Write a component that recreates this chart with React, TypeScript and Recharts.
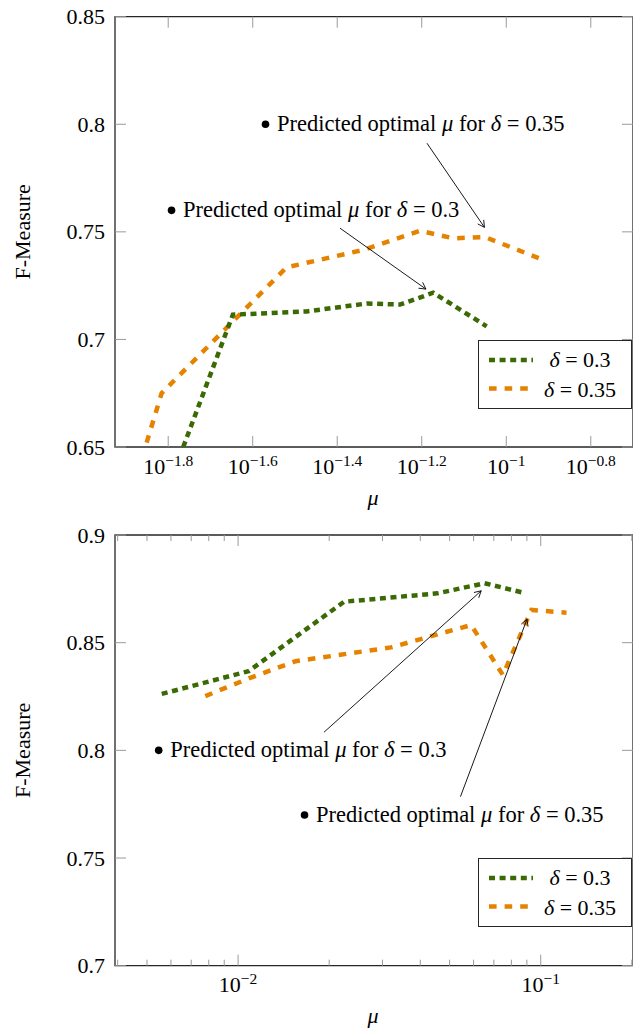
import React from 'react';
import { LineChart, Line, XAxis, YAxis, ReferenceArea, ReferenceDot, ReferenceLine } from 'recharts';

const FONT = '"Liberation Serif", "Times New Roman", Times, serif';
const GREEN = '#3b6a05';
const ORANGE = '#e58300';
const TICK = '#9a9a9a';
const BORDER = '#262626';

// ---- series (top chart) ----
const topMu030 = [0.0172, 0.02254, 0.0337, 0.04673, 0.05603, 0.06718, 0.08987];
const topF030 = [0.65, 0.7115, 0.713, 0.7167, 0.7162, 0.7217, 0.7061];
const topMu035 = [0.01409, 0.01529, 0.03021, 0.04587, 0.06248, 0.07492, 0.08904, 0.1213];
const topF035 = [0.652, 0.675, 0.7335, 0.7416, 0.7505, 0.747, 0.7476, 0.7372];

// ---- series (bottom chart) ----
const botMu030 = [0.005595, 0.01084, 0.02239, 0.04555, 0.06521, 0.0865];
const botF030 = [0.8262, 0.8368, 0.869, 0.8729, 0.8776, 0.8734];
const botMu035 = [0.007791, 0.01084, 0.01549, 0.03199, 0.05891, 0.07499, 0.09316, 0.1217];
const botF035 = [0.8252, 0.8334, 0.8414, 0.8478, 0.8582, 0.835, 0.8652, 0.8639];

// ---- axes ----
const topXDomain = [0.01186, 0.1995];
const topXTickExps = [-1.8, -1.6, -1.4, -1.2, -1, -0.8];
const topXTickLabels = ['\u22121.8', '\u22121.6', '\u22121.4', '\u22121.2', '\u22121', '\u22120.8'];
const topYDomain = [0.65, 0.85];
const topYTicks = [0.65, 0.7, 0.75, 0.8, 0.85];
const topYTickLabels = ['0.65', '0.7', '0.75', '0.8', '0.85'];

const botXDomain = [0.00392, 0.2018];
const botXMajor = [0.01, 0.1];
const botXMajorLabels = ['\u22122', '\u22121'];
const botXMinor = [0.004, 0.005, 0.006, 0.007, 0.008, 0.009, 0.02, 0.03, 0.04, 0.05, 0.06, 0.07, 0.08, 0.09, 0.2];
const botYDomain = [0.7, 0.9];
const botYTicks = [0.7, 0.75, 0.8, 0.85, 0.9];
const botYTickLabels = ['0.7', '0.75', '0.8', '0.85', '0.9'];

// ---- legend ----
const legendDeltas = ['0.3', '0.35'];
const legendColors = [GREEN, ORANGE];
const legendDash = ['6 4.6', '7.6 8'];

// ---- annotations ----
const topNoteMu = [0.02693, 0.01614];
const topNoteF = [0.8, 0.76];
const topNoteDelta = ['0.35', '0.3'];
const topArrowFrom = [[0.06492, 0.7912], [0.04042, 0.7517]];
const topArrowTo = [[0.08879, 0.7521], [0.06455, 0.7234]];

const botNoteMu = [0.005466, 0.01658];
const botNoteF = [0.8, 0.77];
const botNoteDelta = ['0.3', '0.35'];
const botArrowFrom = [[0.01922, 0.8084], [0.0543, 0.7785]];
const botArrowTo = [[0.06359, 0.8741], [0.09007, 0.8609]];

const zip = (xs: number[], ys: number[]) => xs.map((mu, i) => ({ mu, f: ys[i] }));

const PLOT_W = 518;

function makeXTick(plotH: number, majors: number[], labels: string[]) {
  return (props: any) => {
    const { x, y, payload } = props;
    const idx = majors.findIndex((m) => Math.abs(m - payload.value) / m < 1e-6);
    const major = idx >= 0;
    const len = major ? 11 : 6;
    return (
      <g>
        <line x1={x} x2={x} y1={y} y2={y - len} stroke={TICK} strokeWidth={1} />
        <line x1={x} x2={x} y1={y - plotH} y2={y - plotH + len} stroke={TICK} strokeWidth={1} />
        {major && (
          <text x={x} y={y + 26.5} textAnchor="middle" style={{ fontFamily: FONT, fontSize: 22 }} fill="#000">
            <tspan>10</tspan>
            <tspan dy={-8} style={{ fontSize: 15.5 }}>{labels[idx]}</tspan>
          </text>
        )}
      </g>
    );
  };
}

function makeYTick(ticks: number[], labels: string[]) {
  return (props: any) => {
    const { x, y, payload } = props;
    const idx = ticks.findIndex((t) => Math.abs(t - payload.value) < 1e-9);
    return (
      <g>
        <line x1={x} x2={x + 11} y1={y} y2={y} stroke={TICK} strokeWidth={1} />
        <line x1={x + PLOT_W - 11} x2={x + PLOT_W} y1={y} y2={y} stroke={TICK} strokeWidth={1} />
        <text x={x - 10} y={y + 7.5} textAnchor="end" style={{ fontFamily: FONT, fontSize: 22 }} fill="#000">
          {labels[idx]}
        </text>
      </g>
    );
  };
}

const YLabel = (props: any) => {
  const { viewBox } = props;
  const cx = 23;
  const cy = viewBox.y + viewBox.height / 2;
  return (
    <text x={cx} y={cy} transform={`rotate(-90 ${cx} ${cy})`} textAnchor="middle" dominantBaseline="central"
      style={{ fontFamily: FONT, fontSize: 22 }} fill="#000">F-Measure</text>
  );
};

const XLabel = (props: any) => {
  const { viewBox } = props;
  return (
    <text x={viewBox.x + viewBox.width / 2 - 1} y={viewBox.y + 57.5} textAnchor="middle"
      style={{ fontFamily: FONT, fontSize: 22, fontStyle: 'italic' }} fill="#000">μ</text>
  );
};

const makeNote = (delta: string) => (p: any) => (
  <g>
    <circle cx={p.cx} cy={p.cy} r={3.8} fill="#000" />
    <text x={p.cx + 11.5} y={p.cy + 7} style={{ fontFamily: FONT, fontSize: 22.5 }} fill="#000">
      Predicted optimal <tspan fontStyle="italic">μ</tspan> for <tspan fontStyle="italic">δ</tspan> = {delta}
    </text>
  </g>
);

const Arrow = (p: any) => {
  const { x1, y1, x2, y2 } = p;
  const a = Math.atan2(y2 - y1, x2 - x1);
  const L = 7.5;
  const s = 0.5;
  return (
    <g>
      <line x1={x1} y1={y1} x2={x2} y2={y2} stroke="#000" strokeWidth={0.9} />
      <polyline
        points={`${x2 - L * Math.cos(a - s)},${y2 - L * Math.sin(a - s)} ${x2},${y2} ${x2 - L * Math.cos(a + s)},${y2 - L * Math.sin(a + s)}`}
        fill="none" stroke="#000" strokeWidth={0.9} />
    </g>
  );
};

const LegendBox = ({ left, top }: { left: number; top: number }) => (
  <div style={{ position: 'absolute', left, top, width: 154, height: 69, background: '#fff', border: `1.3px solid ${BORDER}`, boxSizing: 'border-box' }}>
    <svg width={152} height={67} style={{ display: 'block' }}>
      {legendDeltas.map((d, i) => (
        <g key={d}>
          <line x1={10} x2={54} y1={19 + i * 28.5} y2={19 + i * 28.5} stroke={legendColors[i]} strokeWidth={4.5} strokeDasharray={legendDash[i]} />
          <text x={101} y={26 + i * 29.5} textAnchor="middle" style={{ fontFamily: FONT, fontSize: 22 }} fill="#000">
            <tspan fontStyle="italic">δ</tspan> = {d}
          </text>
        </g>
      ))}
    </svg>
  </div>
);

function Panel(props: {
  top: number; height: number; marginTop: number; marginBottom: number;
  xDomain: number[]; xTicks: number[]; xTick: any;
  yDomain: number[]; yTicks: number[]; yTick: any;
  s030: { mu: number; f: number }[]; s035: { mu: number; f: number }[];
  noteMu: number[]; noteF: number[]; noteDelta: string[];
  arrowFrom: number[][]; arrowTo: number[][];
  legendTop: number;
}) {
  return (
    <div style={{ position: 'absolute', left: 0, top: props.top, width: 640, height: props.height }}>
      <LineChart width={640} height={props.height}
        margin={{ top: props.marginTop, right: 7, bottom: props.marginBottom - 1, left: 114 }}>
        <XAxis dataKey="mu" type="number" scale="log" domain={props.xDomain} allowDataOverflow
          ticks={props.xTicks} interval={0} tick={props.xTick} tickLine={false} tickSize={0} tickMargin={0}
          axisLine={false} height={1} label={<XLabel />} />
        <YAxis type="number" domain={props.yDomain} allowDataOverflow ticks={props.yTicks} interval={0}
          tick={props.yTick} tickLine={false} tickSize={0} tickMargin={0} axisLine={false} width={1}
          label={<YLabel />} />
        <ReferenceArea x1={props.xDomain[0]} x2={props.xDomain[1]} y1={props.yDomain[0]} y2={props.yDomain[1]}
          fill="none" fillOpacity={0} stroke={BORDER} strokeWidth={1.3} ifOverflow="visible" />
        <Line data={props.s035} dataKey="f" type="linear" stroke={ORANGE} strokeWidth={4.5} strokeDasharray="7.6 8"
          dot={false} activeDot={false} isAnimationActive={false} />
        <Line data={props.s030} dataKey="f" type="linear" stroke={GREEN} strokeWidth={4.5} strokeDasharray="6 4.6"
          dot={false} activeDot={false} isAnimationActive={false} />
        {props.arrowFrom.map((fr, i) => (
          <ReferenceLine key={'a' + i} segment={[{ x: fr[0], y: fr[1] }, { x: props.arrowTo[i][0], y: props.arrowTo[i][1] }]}
            shape={Arrow} ifOverflow="visible" />
        ))}
        {props.noteMu.map((m, i) => (
          <ReferenceDot key={'n' + i} x={m} y={props.noteF[i]} r={4} shape={makeNote(props.noteDelta[i])} ifOverflow="visible" />
        ))}
      </LineChart>
      <LegendBox left={478} top={props.legendTop} />
    </div>
  );
}

export default function App() {
  const topXTicks = topXTickExps.map((e) => Math.pow(10, e));
  return (
    <div style={{ position: 'absolute', left: 0, top: 0, width: 633, height: 1030, overflow: 'hidden', background: '#fff' }}>
      <Panel top={0} height={520} marginTop={16.7} marginBottom={73}
        xDomain={topXDomain} xTicks={topXTicks} xTick={makeXTick(430.3, topXTicks, topXTickLabels)}
        yDomain={topYDomain} yTicks={topYTicks} yTick={makeYTick(topYTicks, topYTickLabels)}
        s030={zip(topMu030, topF030)} s035={zip(topMu035, topF035)}
        noteMu={topNoteMu} noteF={topNoteF} noteDelta={topNoteDelta}
        arrowFrom={topArrowFrom} arrowTo={topArrowTo} legendTop={340} />
      <Panel top={520} height={510} marginTop={15} marginBottom={64.3}
        xDomain={botXDomain} xTicks={[...botXMajor, ...botXMinor]} xTick={makeXTick(430.7, botXMajor, botXMajorLabels)}
        yDomain={botYDomain} yTicks={botYTicks} yTick={makeYTick(botYTicks, botYTickLabels)}
        s030={zip(botMu030, botF030)} s035={zip(botMu035, botF035)}
        noteMu={botNoteMu} noteF={botNoteF} noteDelta={botNoteDelta}
        arrowFrom={botArrowFrom} arrowTo={botArrowTo} legendTop={338} />
    </div>
  );
}
